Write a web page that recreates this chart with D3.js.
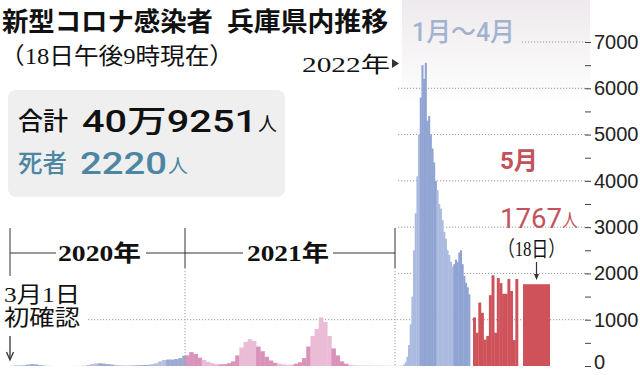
<!DOCTYPE html>
<meta charset="utf-8">
<style>
  body { margin: 0; background: #fff; }
  svg { display: block; }
  .sans { font-family: "Liberation Sans", "Noto Sans CJK JP", sans-serif; }
  .num { font-family: Roboto, "Noto Sans CJK JP", sans-serif; }
  .goth { font-family: "Noto Sans CJK JP", sans-serif; }
  .mincho { font-family: "Liberation Serif", "Noto Sans CJK JP", serif; }
</style>
<script src="https://d3js.org/d3.v7.min.js"></script>
<div id="chart"></div>
<script>
// daily new cases
// 2020: one value per week from 3/1
const cases2020 = [5, 15, 15, 20, 30, 40, 35, 20, 10, 5, 2, 1, 0, 0, 0, 1, 2, 3, 8, 20,
  40, 55, 60, 50, 40, 30, 20, 15, 12, 12, 15, 15, 18, 20, 25, 40, 60, 100, 130, 140,
  140, 150, 170, 220];
// 2021: one value per week from 1/1
const cases2021 = [230, 300, 260, 180, 130, 90, 60, 40, 35, 40, 60, 100, 230, 400, 520,
  580, 540, 420, 320, 200, 120, 70, 50, 35, 25, 30, 50, 80, 170, 420, 650, 800, 1050,
  950, 650, 380, 230, 100, 50, 25, 15, 10, 8, 6, 5, 4, 4, 4, 4, 5, 6, 8, 15];
// 2022 Jan-Apr: one value per 3 days from 1/1
const cases2022 = [30, 80, 200, 450, 900, 1500, 2500, 3300, 4100, 5000, 5800, 6500, 6200,
  6550, 5300, 5400, 5000, 4700, 4400, 4000, 3800, 3500, 3400, 3150, 2900, 2750, 2500,
  2400, 2250, 2150, 2200, 2300, 2250, 2450, 2500, 2200, 1950, 1800, 1700, 1550];
// May 1-17, daily
const casesMay = [1050, 720, 1370, 1150, 570, 650, 1530, 1960, 720, 1900, 1790, 1560,
  1560, 1880, 1620, 560, 1880];
const latestValue = 1767; // May 18
const yTicks = d3.range(0, 7001, 500);

const W = 640, H = 375;
const svg = d3.select("#chart").append("svg")
  .attr("width", W).attr("height", H);

const x = d3.scaleTime()
  .domain([new Date(2020, 2, 1), new Date(2021, 0, 1), new Date(2022, 0, 1), new Date(2022, 4, 1)])
  .range([10, 185, 403, 470]);
const xMay = d3.scaleTime()
  .domain([new Date(2022, 4, 1), new Date(2022, 4, 18)])
  .range([473, 518]);
const y = d3.scaleLinear().domain([0, 7000]).range([366, 42]);

// light background behind the 2022 part
const defs = svg.append("defs");
const grad = defs.append("linearGradient").attr("id", "bg22")
  .attr("x1", 0).attr("y1", 0).attr("x2", 0).attr("y2", 1);
grad.append("stop").attr("offset", "0%").attr("stop-color", "#eeeaed");
grad.append("stop").attr("offset", "100%").attr("stop-color", "#ffffff");
svg.append("rect").attr("x", 402).attr("y", 0).attr("width", 188).attr("height", 105)
  .attr("fill", "url(#bg22)");

// dotted grid
const gridStart = {1000: 88, 7000: 522};
svg.append("g").selectAll("line")
  .data(yTicks.filter(d => d > 0 && d % 1000 === 0))
  .join("line")
    .attr("x1", d => gridStart[d] || 398)
    .attr("x2", 588)
    .attr("y1", d => y(d)).attr("y2", d => y(d))
    .attr("stroke", "#9a9a9a")
    .attr("stroke-dasharray", "1.2,1.8");

// bars
function steps(values, start, step, end) {
  return values.map((v, i) => {
    const d0 = d3.timeDay.offset(start, i * step);
    const d1 = d3.min([d3.timeDay.offset(start, (i + 1) * step), end]);
    return {d0, d1, v};
  });
}
const periods = [
  {data: steps(cases2020, new Date(2020, 2, 1), 7, new Date(2021, 0, 1)), colors: ["#b8c0df", "#9eaad4"]},
  {data: steps(cases2021, new Date(2021, 0, 1), 7, new Date(2022, 0, 1)), colors: ["#d993bb", "#ebbcd6"]},
  {data: steps(cases2022, new Date(2022, 0, 1), 3, new Date(2022, 4, 1)), colors: ["#abbadf", "#90a3d2"]}
];
const bars = svg.append("g");
periods.forEach(p => {
  bars.append("g").selectAll("rect")
    .data(p.data)
    .join("rect")
      .attr("x", d => x(d.d0))
      .attr("width", d => x(d.d1) - x(d.d0) + 0.4)
      .attr("y", d => y(d.v))
      .attr("height", d => y(0) - y(d.v))
      .attr("fill", d => p.colors[new Date((+d.d0 + +d.d1) / 2).getMonth() % 2]);
});
const red = "#cf525a";
bars.append("g").selectAll("rect")
  .data(casesMay)
  .join("rect")
    .attr("x", (d, i) => xMay(new Date(2022, 4, 1 + i)))
    .attr("width", (d, i) => xMay(new Date(2022, 4, 2 + i)) - xMay(new Date(2022, 4, 1 + i)) + 0.3)
    .attr("y", d => y(d))
    .attr("height", d => y(0) - y(d))
    .attr("fill", red);
const lastX = xMay(new Date(2022, 4, 18)) + 5;
bars.append("rect")
  .attr("x", lastX).attr("width", 27)
  .attr("y", y(latestValue)).attr("height", y(0) - y(latestValue))
  .attr("fill", red);

// right axis
const axis = svg.append("g")
  .attr("transform", "translate(585,0)")
  .call(d3.axisRight(y).tickValues(yTicks).tickSize(6).tickPadding(3)
    .tickFormat(d => d % 1000 ? "" : d));
axis.select(".domain").remove();
axis.selectAll("line").attr("stroke", "#444");
axis.selectAll("text").attr("class", "sans").attr("font-size", 20).attr("fill", "#222")
  .attr("dy", d => d === 0 ? "0.1em" : "0.32em");

// year brackets
const ink = "#333";
const br = svg.append("g").attr("stroke", ink).attr("fill", "none");
const sep = [x(new Date(2020, 2, 1)), x(new Date(2021, 0, 1)), x(new Date(2022, 0, 1)) - 8];
br.append("line").attr("x1", sep[0]).attr("x2", sep[0]).attr("y1", 228).attr("y2", 276);
[sep[1], sep[2]].forEach(s => {
  br.append("line").attr("x1", s).attr("x2", s).attr("y1", 228).attr("y2", 268);
  br.append("line").attr("x1", s).attr("x2", s).attr("y1", 268).attr("y2", 366)
    .attr("stroke", "#9a9a9a").attr("stroke-dasharray", "1.2,1.8");
});
[[sep[0], 56], [146, sep[1]], [sep[1], 243], [333, sep[2]]].forEach(s => {
  br.append("line").attr("x1", s[0]).attr("x2", s[1]).attr("y1", 253).attr("y2", 253);
});

function label(t, px, py, size, opts = {}) {
  const el = svg.append("text")
    .attr("x", px).attr("y", py)
    .attr("class", opts.cls || "goth")
    .attr("font-size", size)
    .attr("font-weight", opts.weight || 400)
    .attr("fill", opts.fill || "#111")
    .text(t);
  if (opts.len) el.attr("textLength", opts.len).attr("lengthAdjust", "spacingAndGlyphs");
  return el;
}

label("2020年", 58, 261, 23, {cls: "mincho", weight: 700, len: 83});
label("2021年", 247, 261, 23, {cls: "mincho", weight: 700, len: 82});

// title
label("新型コロナ感染者", 2, 31, 26, {weight: 700, len: 211});
label("兵庫県内推移", 227, 31, 26, {weight: 700, len: 161});
label("（18日午後9時現在）", 0, 64, 23, {cls: "mincho", len: 234});

// summary box
svg.append("rect").attr("x", 8).attr("y", 90).attr("width", 277).attr("height", 107)
  .attr("rx", 8).attr("fill", "#efefef");
label("合計", 18, 130, 25, {weight: 500, len: 50});
label("40万9251", 82, 132, 31, {cls: "num", weight: 500, len: 175});
label("人", 258, 131, 19, {len: 19});
const blue = "#4d86a3";
label("死者", 18, 172, 25, {weight: 500, fill: blue, len: 49});
label("2220", 80, 174, 31, {cls: "num", weight: 500, fill: blue, len: 87});
label("人", 168, 173, 19, {fill: blue, len: 20});

// 2022 notes
label("2022年", 302, 72, 22, {cls: "mincho", len: 88});
svg.append("path").attr("d", "M392,59 L399,63.5 L392,68 Z").attr("fill", ink);
label("1月〜4月", 412, 41, 26, {cls: "num", weight: 500, fill: "#a3b3cf", len: 103});
label("5月", 500, 169, 24, {cls: "num", weight: 700, fill: "#c4525a", len: 38});
label("1767", 500, 228, 28, {cls: "num", fill: "#c4525a", len: 62});
label("人", 562, 227, 18, {fill: "#c4525a", len: 16});
label("（18日）", 498, 256, 21, {cls: "mincho", len: 67});
const ax = lastX + 13.5;
svg.append("line").attr("x1", ax).attr("x2", ax).attr("y1", 262).attr("y2", 278)
  .attr("stroke", ink).attr("stroke-width", 1.2);
svg.append("path").attr("d", `M${ax - 2.5},274 L${ax},280 L${ax + 2.5},274 Z`).attr("fill", ink);

// first case note
label("3月1日", 4, 302, 22, {cls: "mincho", len: 76});
label("初確認", 4, 325, 22, {cls: "mincho", len: 76});
svg.append("line").attr("x1", 10).attr("x2", 10).attr("y1", 336).attr("y2", 358)
  .attr("stroke", ink).attr("stroke-width", 1.3);
svg.append("path").attr("d", "M6.5,352 L10,360 L13.5,352").attr("fill", "none")
  .attr("stroke", ink).attr("stroke-width", 1.3);
</script>
